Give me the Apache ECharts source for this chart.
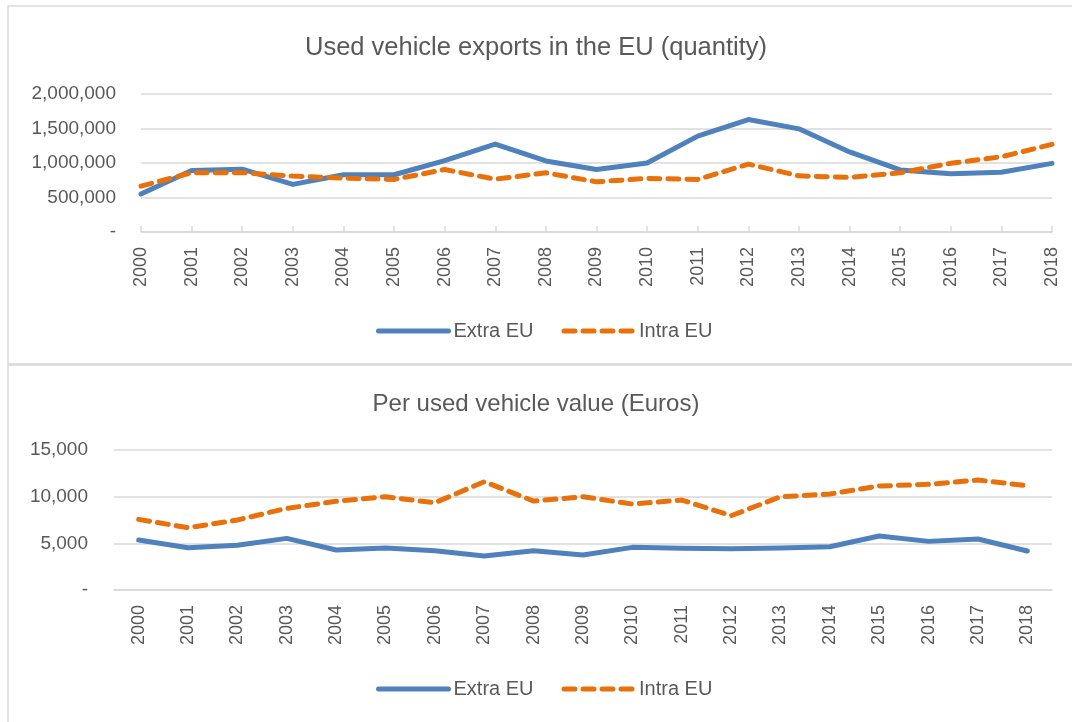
<!DOCTYPE html>
<html>
<head>
<meta charset="utf-8">
<script src="https://cdn.jsdelivr.net/npm/echarts@6/dist/echarts.min.js"></script>
<style>
  html, body { margin: 0; padding: 0; background: #fff; }
  #chart { width: 1072px; height: 722px; }
</style>
</head>
<body>
<div id="chart"></div>
<script>
const years = ['2000', '2001', '2002', '2003', '2004', '2005', '2006', '2007', '2008', '2009',
  '2010', '2011', '2012', '2013', '2014', '2015', '2016', '2017', '2018'];

// quantity of used vehicles exported
const qtyExtra = [550000, 890000, 910000, 690000, 830000, 830000, 1035000, 1275000, 1030000, 905000,
  1000000, 1390000, 1630000, 1495000, 1160000, 900000, 845000, 865000, 995000];
const qtyIntra = [665000, 858000, 860000, 810000, 780000, 762000, 905000, 766000, 858000, 727000,
  776000, 762000, 984000, 814000, 791000, 858000, 995000, 1090000, 1270000];

// value per used vehicle (euros)
const valExtra = [5350, 4530, 4790, 5530, 4280, 4500, 4210, 3640, 4210, 3750,
  4570, 4460, 4430, 4500, 4640, 5780, 5210, 5460, 4180];
const valIntra = [7570, 6670, 7500, 8750, 9500, 9990, 9350, 11600, 9530, 9990,
  9210, 9640, 7960, 9990, 10280, 11140, 11320, 11780, 11170];

const blue = '#4f81bd';
const orange = '#e8710c';
const txt = '#595959';
const gridCol = '#d9d9d9';
const font = 'Liberation Sans';

const fmt = v => v === 0 ? '-' : v.toLocaleString('en-US');

const chart = echarts.init(document.getElementById('chart'));

function lineSeries(name, data, idx, dashed) {
  return {
    name,
    type: 'line',
    data,
    xAxisIndex: idx,
    yAxisIndex: idx,
    symbol: 'none',
    lineStyle: {
      color: dashed ? orange : blue,
      width: 5,
      type: dashed ? [11, 8] : 'solid',
      cap: 'round',
      join: 'round'
    },
    itemStyle: { color: dashed ? orange : blue }
  };
}

const legendBase = {
  data: ['Extra EU', 'Intra EU'],
  left: 371,
  itemWidth: 70,
  itemHeight: 12,
  itemGap: 28,
  itemStyle: { opacity: 0 },
  lineStyle: { width: 5, cap: 'round' },
  textStyle: { color: txt, fontSize: 20, fontFamily: font }
};

chart.setOption({
  animation: false,
  graphic: [
    { type: 'rect', shape: { x: 8, y: 6, width: 1080, height: 358 }, style: { fill: 'none', stroke: gridCol, lineWidth: 1.5 } },
    { type: 'rect', shape: { x: 8, y: 365, width: 1080, height: 400 }, style: { fill: 'none', stroke: gridCol, lineWidth: 1.5 } }
  ],
  title: [
    {
      text: 'Used vehicle exports in the EU (quantity)',
      left: 'center', top: 30,
      textStyle: { color: txt, fontSize: 25.5, fontWeight: 'normal', fontFamily: font }
    },
    {
      text: 'Per used vehicle value (Euros)',
      left: 'center', top: 387,
      textStyle: { color: txt, fontSize: 24, fontWeight: 'normal', fontFamily: font }
    }
  ],
  legend: [
    Object.assign({ top: 316 }, legendBase),
    Object.assign({ top: 674 }, legendBase)
  ],
  grid: [
    { left: 141, right: 20, top: 94, height: 138 },
    { left: 114, right: 20, top: 450, height: 140 }
  ],
  xAxis: [
    {
      type: 'category', gridIndex: 0, data: years, boundaryGap: false,
      axisLine: { lineStyle: { color: gridCol, width: 1.5 } },
      axisTick: { show: true, inside: true, length: 6, lineStyle: { color: gridCol, width: 1.5 } },
      axisLabel: { rotate: 90, margin: 15, color: txt, fontSize: 18, fontFamily: font }
    },
    {
      type: 'category', gridIndex: 1, data: years, boundaryGap: true,
      axisLine: { lineStyle: { color: gridCol, width: 1.5 } },
      axisTick: { show: false },
      axisLabel: { rotate: 90, margin: 15, color: txt, fontSize: 18, fontFamily: font, interval: 0 }
    }
  ],
  yAxis: [
    {
      type: 'value', gridIndex: 0, min: 0, max: 2000000, interval: 500000,
      axisLine: { show: false }, axisTick: { show: false },
      splitLine: { lineStyle: { color: gridCol, width: 1.5 } },
      axisLabel: { formatter: fmt, margin: 25, color: txt, fontSize: 19, fontFamily: font }
    },
    {
      type: 'value', gridIndex: 1, min: 0, max: 15000, interval: 5000,
      axisLine: { show: false }, axisTick: { show: false },
      splitLine: { lineStyle: { color: gridCol, width: 1.5 } },
      axisLabel: { formatter: fmt, margin: 26, color: txt, fontSize: 19, fontFamily: font }
    }
  ],
  series: [
    lineSeries('Extra EU', qtyExtra, 0, false),
    lineSeries('Intra EU', qtyIntra, 0, true),
    lineSeries('Extra EU', valExtra, 1, false),
    lineSeries('Intra EU', valIntra, 1, true)
  ]
});
</script>
</body>
</html>
